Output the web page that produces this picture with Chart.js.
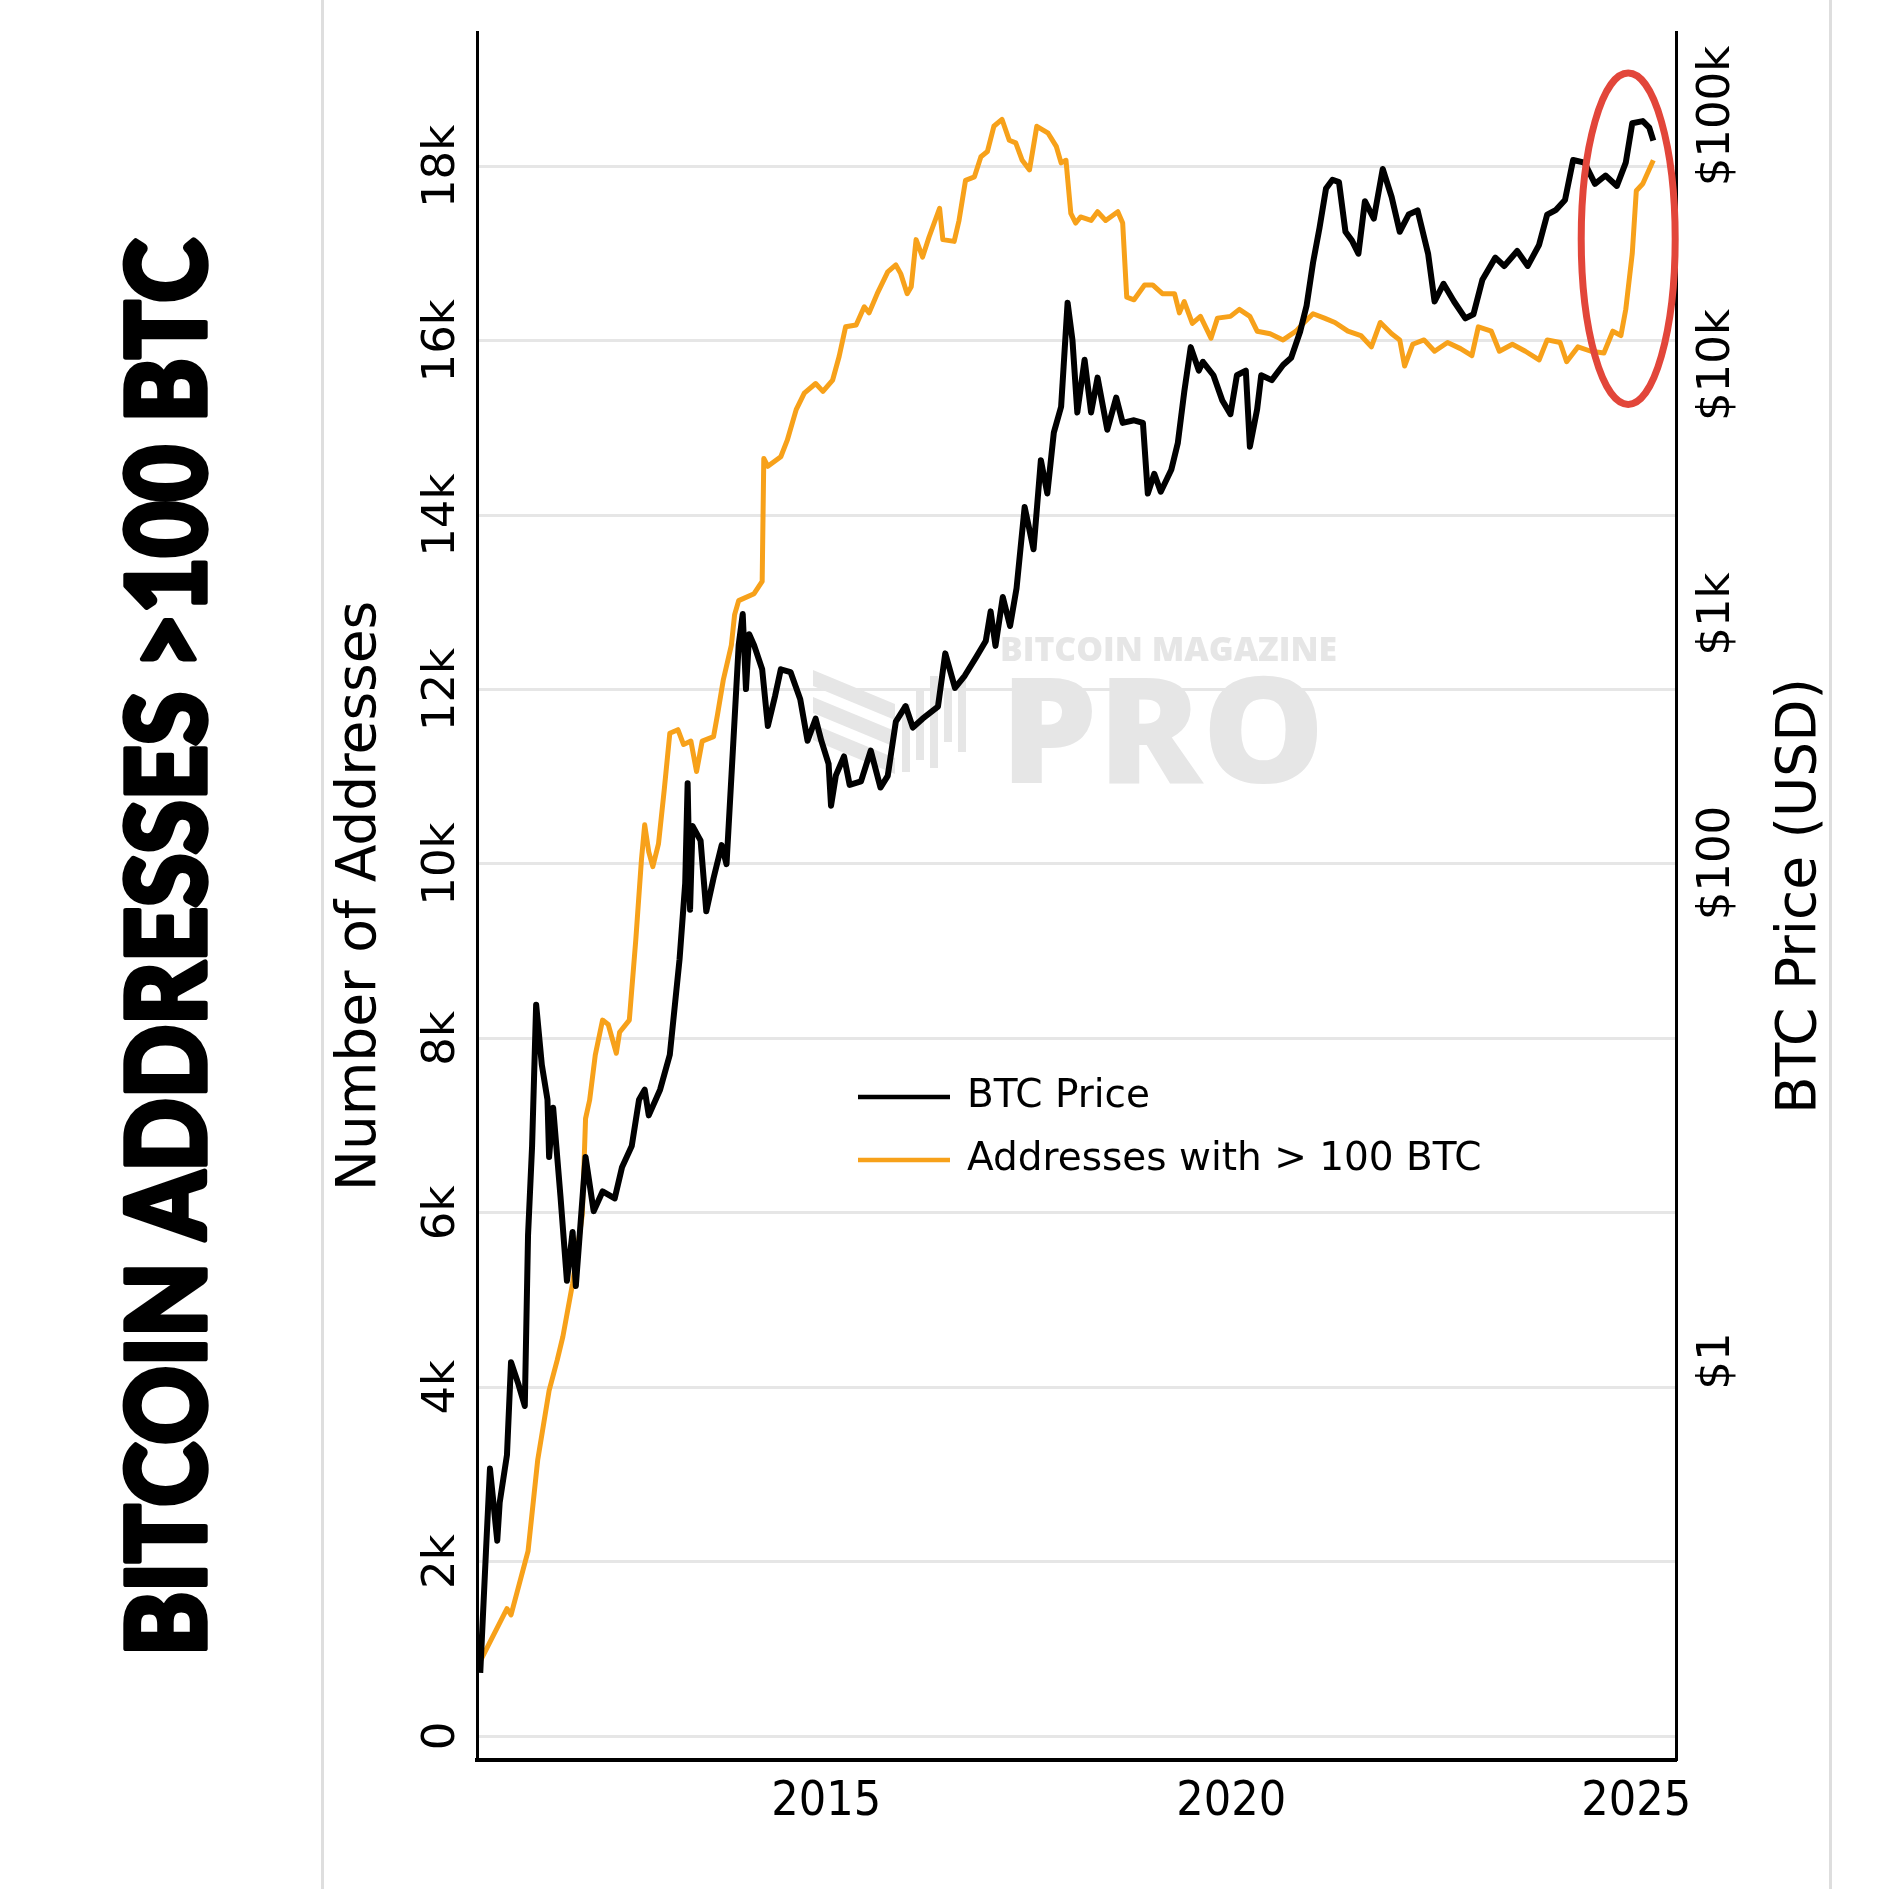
<!DOCTYPE html>
<html lang="en">
<head>
  <meta charset="UTF-8">
  <title>Bitcoin Addresses &gt;100 BTC</title>
  <script src="https://cdn.jsdelivr.net/npm/chart.js"></script>
  <style>
    html, body { margin: 0; padding: 0; background: #fff; }
    canvas { display: block; }
  </style>
</head>
<body>
  <canvas id="addrChart" width="1889" height="1889"></canvas>

  <script>
    // addresses holding more than 100 BTC (left axis)
    const addrYear = [
      2010.73, 2011.06, 2011.11, 2011.32, 2011.44, 2011.58, 2011.68, 2011.75, 2011.87, 2011.99,
      2012.03, 2012.08, 2012.15, 2012.24, 2012.31, 2012.41, 2012.45, 2012.57, 2012.65, 2012.72,
      2012.76, 2012.81, 2012.86, 2012.93, 2013.00, 2013.07, 2013.17, 2013.24, 2013.33, 2013.40,
      2013.47, 2013.61, 2013.66, 2013.73, 2013.83, 2013.87, 2013.92, 2014.11, 2014.21, 2014.23,
      2014.28, 2014.44, 2014.52, 2014.63, 2014.73, 2014.87, 2014.96, 2015.08, 2015.16, 2015.24,
      2015.37, 2015.47, 2015.53, 2015.63, 2015.76, 2015.86, 2015.92, 2016.00, 2016.05, 2016.11,
      2016.19, 2016.27, 2016.40, 2016.44, 2016.58, 2016.64, 2016.72, 2016.83, 2016.91, 2016.99,
      2017.07, 2017.17, 2017.26, 2017.34, 2017.42, 2017.51, 2017.60, 2017.74, 2017.84, 2017.90,
      2017.96, 2018.02, 2018.08, 2018.14, 2018.27, 2018.35, 2018.45, 2018.60, 2018.66, 2018.71,
      2018.80, 2018.93, 2019.03, 2019.15, 2019.30, 2019.36, 2019.42, 2019.52, 2019.62, 2019.75,
      2019.83, 2019.99, 2020.10, 2020.23, 2020.32, 2020.48, 2020.64, 2020.80, 2020.90, 2021.01,
      2021.15, 2021.28, 2021.44, 2021.60, 2021.73, 2021.84, 2021.98, 2022.08, 2022.14, 2022.24,
      2022.38, 2022.51, 2022.67, 2022.83, 2022.97, 2023.05, 2023.21, 2023.31, 2023.47, 2023.63,
      2023.80, 2023.90, 2024.06, 2024.14, 2024.28, 2024.44, 2024.60, 2024.71, 2024.81, 2024.87,
      2024.95, 2025.00, 2025.08, 2025.21
    ];
    const addrCount = [
      860, 1460, 1390, 2120, 3170, 3960, 4310, 4580, 5190, 5980,
      7080, 7290, 7810, 8210, 8160, 7830, 8070, 8210, 9130, 10050,
      10450, 10140, 9970, 10230, 10840, 11500, 11540, 11370, 11410, 11060,
      11410, 11460, 11720, 12110, 12510, 12860, 13020, 13100, 13240, 14650,
      14560, 14670, 14860, 15210, 15400, 15510, 15420, 15550, 15820, 16160,
      16180, 16390, 16320, 16540, 16790, 16870, 16770, 16540, 16620, 17160,
      16960, 17190, 17520, 17160, 17140, 17380, 17840, 17880, 18110, 18170,
      18460, 18540, 18300, 18270, 18070, 17960, 18460, 18380, 18230, 18040,
      18070, 17460, 17350, 17420, 17380, 17480, 17380, 17480, 17350, 16500,
      16470, 16640, 16640, 16540, 16540, 16320, 16450, 16200, 16280, 16030,
      16260, 16280, 16360, 16280, 16110, 16080, 16010, 16110, 16210, 16310,
      16260, 16210, 16110, 16060, 15930, 16210, 16080, 16010, 15710, 15960,
      16010, 15880, 15980, 15910, 15830, 16160, 16110, 15880, 15960, 15880,
      15780, 16010, 15980, 15760, 15930, 15880, 15860, 16110, 16060, 16360,
      17000, 17720, 17800, 18070
    ];

    // BTC price in USD (right axis, log)
    const btcYear = [
      2010.73, 2010.80, 2010.85, 2010.94, 2010.97, 2011.06, 2011.11, 2011.20, 2011.28, 2011.32,
      2011.37, 2011.42, 2011.49, 2011.56, 2011.58, 2011.63, 2011.72, 2011.80, 2011.87, 2011.91,
      2012.03, 2012.13, 2012.24, 2012.39, 2012.48, 2012.60, 2012.69, 2012.76, 2012.81, 2012.95,
      2013.07, 2013.19, 2013.26, 2013.29, 2013.32, 2013.35, 2013.45, 2013.52, 2013.61, 2013.71,
      2013.77, 2013.85, 2013.92, 2013.97, 2014.01, 2014.05, 2014.11, 2014.21, 2014.28, 2014.37,
      2014.44, 2014.56, 2014.68, 2014.77, 2014.87, 2014.94, 2015.03, 2015.06, 2015.12, 2015.22,
      2015.29, 2015.43, 2015.55, 2015.67, 2015.76, 2015.86, 2015.98, 2016.07, 2016.19, 2016.38,
      2016.47, 2016.59, 2016.71, 2016.85, 2016.97, 2017.03, 2017.09, 2017.18, 2017.27, 2017.35,
      2017.45, 2017.56, 2017.65, 2017.73, 2017.81, 2017.90, 2017.98, 2018.04, 2018.10, 2018.19,
      2018.27, 2018.35, 2018.47, 2018.58, 2018.66, 2018.80, 2018.91, 2018.97, 2019.05, 2019.13,
      2019.26, 2019.34, 2019.42, 2019.50, 2019.60, 2019.65, 2019.78, 2019.89, 2019.99, 2020.07,
      2020.18, 2020.23, 2020.32, 2020.37, 2020.50, 2020.64, 2020.74, 2020.85, 2020.93, 2021.01,
      2021.09, 2021.17, 2021.25, 2021.33, 2021.41, 2021.49, 2021.57, 2021.65, 2021.76, 2021.87,
      2021.98, 2022.08, 2022.19, 2022.30, 2022.43, 2022.51, 2022.62, 2022.75, 2022.89, 2022.99,
      2023.10, 2023.26, 2023.37, 2023.53, 2023.66, 2023.80, 2023.90, 2024.01, 2024.12, 2024.22,
      2024.36, 2024.49, 2024.62, 2024.76, 2024.87, 2024.95, 2025.08, 2025.16, 2025.21
    ];
    const btcPrice = [
      0.056, 0.17, 0.37, 0.19, 0.27, 0.42, 0.99, 0.81, 0.66, 3.2,
      7.3, 27, 15.5, 11.2, 6.6, 10.4, 4.6, 2.1, 3.3, 2.0,
      6.6, 4.0, 4.8, 4.5, 6.0, 7.3, 11.2, 12.3, 9.7, 12.3,
      17, 41, 83, 209, 65, 141, 123, 64, 87, 118,
      99, 290, 750, 1000, 500, 830, 750, 600, 355, 470,
      600, 585, 455, 310, 380, 310, 250, 170, 225, 268,
      206, 213, 283, 201, 224, 370, 427, 350, 380, 425,
      695, 505, 565, 670, 780, 1025, 745, 1170, 895, 1270,
      2690, 1820, 4150, 3050, 5350, 6800, 17800, 12600, 6450, 10500,
      6450, 8900, 5500, 7400, 5860, 6000, 5860, 3050, 3660, 3100,
      3800, 4850, 7800, 11800, 9500, 10300, 9100, 7200, 6350, 9100,
      9500, 4700, 6650, 9100, 8700, 10000, 10700, 13600, 17300, 25800,
      35600, 51200, 55500, 54300, 34300, 31600, 28000, 45500, 38700, 61300,
      47300, 34300, 40200, 41800, 28000, 18000, 21200, 18000, 15400, 16000,
      22000, 27000, 25000, 28700, 25000, 30400, 40200, 42000, 46000, 66600,
      65000, 53400, 57700, 52400, 65000, 93600, 95400, 89800, 79600
    ];

    const yearTicks = [2015, 2020, 2025];
    const addrTicks = [0, 2000, 4000, 6000, 8000, 10000, 12000, 14000, 16000, 18000];
    const priceTicks = [1, 100, 1000, 10000, 100000];
    const priceTickLabels = ['$1', '$100', '$1k', '$10k', '$100k'];

    // red ring around the late-2024 move (year, addresses, half sizes)
    const ring = { year: 2024.9, addr: 17170, halfYears: 0.58, halfAddr: 1900 };

    const ORANGE = '#f7a11a';

    function fitText(ctx, text, font, width, capHeight, stroke) {
      ctx.font = font;
      const m = ctx.measureText(text);
      ctx.scale(width / m.width, capHeight / m.actualBoundingBoxAscent);
      ctx.fillText(text, 0, 0);
      if (stroke) {
        ctx.lineWidth = stroke;
        ctx.lineJoin = 'round';
        ctx.strokeText(text, 0, 0);
      }
    }

    const decor = {
      id: 'decor',
      beforeDraw(chart) {
        const c = chart.ctx;
        c.save();
        c.fillStyle = '#fff';
        c.fillRect(0, 0, chart.width, chart.height);
        c.fillStyle = '#dedede';
        c.fillRect(321, 0, 3, chart.height);
        c.fillRect(1829, 0, 3, chart.height);
        c.restore();
      },
      beforeDatasetsDraw(chart) {
        // watermark
        const c = chart.ctx;
        c.save();
        c.fillStyle = '#e6e6e6';
        for (let i = 0; i < 3; i++) {
          const t = 670 + i * 27;
          c.beginPath();
          c.moveTo(813, t);
          c.lineTo(895, t + 34);
          c.lineTo(895, t + 50);
          c.lineTo(813, t + 16);
          c.closePath();
          c.fill();
        }
        const bars = [[902, 704, 772], [916, 690, 760], [930, 676, 768], [944, 690, 742], [958, 680, 752]];
        bars.forEach(b => c.fillRect(b[0], b[1], 8, b[2] - b[1]));
        c.textBaseline = 'alphabetic';
        c.save();
        c.translate(1000, 661);
        fitText(c, 'BITCOIN MAGAZINE', '800 40px "Open Sans", "DejaVu Sans"', 337, 24);
        c.restore();
        c.save();
        c.translate(1000, 783);
        fitText(c, 'PRO', '800 150px "Open Sans", "DejaVu Sans"', 325, 108);
        c.restore();
        c.restore();
      },
      afterDatasetsDraw(chart) {
        const c = chart.ctx;
        const xs = chart.scales.x, ys = chart.scales.y;
        const cx = xs.getPixelForValue(ring.year);
        const cy = ys.getPixelForValue(ring.addr);
        const rx = xs.getPixelForValue(ring.year + ring.halfYears) - cx;
        const ry = cy - ys.getPixelForValue(ring.addr + ring.halfAddr);
        c.save();
        c.strokeStyle = '#e2463a';
        c.lineWidth = 7;
        c.beginPath();
        c.ellipse(cx, cy, rx, ry, 0, 0, Math.PI * 2);
        c.stroke();
        c.restore();
      },
      afterDraw(chart) {
        const c = chart.ctx;
        const area = chart.chartArea;
        c.save();

        // legend
        const lx = area.left + 381, ly = area.top + 1065;
        c.font = '39px "DejaVu Sans"';
        c.textBaseline = 'middle';
        c.textAlign = 'left';
        chart.data.datasets.forEach((ds, i) => {
          const y = ly + i * 63;
          c.strokeStyle = ds.borderColor;
          c.lineWidth = 4.5;
          c.beginPath();
          c.moveTo(lx, y);
          c.lineTo(lx + 92, y);
          c.stroke();
          c.fillStyle = '#000';
          c.fillText(ds.label, lx + 109, y);
        });

        // right axis title (reads upward like the left one)
        const r = chart.scales.y1;
        c.save();
        c.translate(r.left + 125, (area.top + area.bottom) / 2);
        c.rotate(-Math.PI / 2);
        c.font = '55px "DejaVu Sans"';
        c.textAlign = 'center';
        c.fillText('BTC Price (USD)', 0, 0);
        c.restore();

        // big side heading
        c.save();
        c.translate(205, 1656);
        c.rotate(-Math.PI / 2);
        c.fillStyle = '#000';
        c.strokeStyle = '#000';
        c.textBaseline = 'alphabetic';
        c.textAlign = 'left';
        fitText(c, 'BITCOIN ADDRESSES >100 BTC', '900 100px Lato, Roboto, "DejaVu Sans"', 1417, 79, 5);
        c.restore();

        c.restore();
      }
    };

    const ctx = document.getElementById('addrChart').getContext('2d');

    new Chart(ctx, {
      type: 'line',
      data: {
        datasets: [
          {
            label: 'BTC Price',
            data: btcYear.map((x, i) => ({ x, y: btcPrice[i] })),
            yAxisID: 'y1',
            borderColor: '#000',
            borderWidth: 6,
            pointRadius: 0,
            borderJoinStyle: 'round',
            tension: 0
          },
          {
            label: 'Addresses with > 100 BTC',
            data: addrYear.map((x, i) => ({ x, y: addrCount[i] })),
            yAxisID: 'y',
            borderColor: ORANGE,
            borderWidth: 5,
            pointRadius: 0,
            borderJoinStyle: 'round',
            tension: 0
          }
        ]
      },
      options: {
        responsive: false,
        animation: false,
        layout: { padding: { top: 32, left: 0, right: 0, bottom: 0 } },
        plugins: {
          legend: { display: false },
          tooltip: { enabled: false }
        },
        scales: {
          x: {
            type: 'linear',
            min: 2010.69,
            max: 2025.49,
            afterBuildTicks: s => { s.ticks = yearTicks.map(v => ({ value: v })); },
            afterFit: s => { s.height = 129; },
            grid: { display: false, drawTicks: false },
            border: { display: true, color: '#000', width: 4 },
            ticks: {
              autoSkip: false,
              maxRotation: 0,
              padding: 14,
              color: '#000',
              font: { family: '"DejaVu Sans Condensed", "DejaVu Sans"', size: 48 },
              callback: v => String(v)
            }
          },
          y: {
            type: 'linear',
            position: 'left',
            min: -275,
            max: 19541,
            afterBuildTicks: s => { s.ticks = addrTicks.map(v => ({ value: v })); },
            afterFit: s => { s.width = 477; },
            grid: { color: '#e6e6e6', lineWidth: 3, drawTicks: false },
            border: { display: true, color: '#000', width: 3 },
            title: {
              display: true,
              text: 'Number of Addresses',
              color: '#000',
              font: { family: '"DejaVu Sans"', size: 55 },
              padding: { top: 328, bottom: 0 }
            },
            ticks: {
              autoSkip: false,
              minRotation: 90,
              maxRotation: 90,
              crossAlign: 'center',
              padding: -7,
              color: '#000',
              font: { family: '"DejaVu Sans"', size: 45 },
              callback: v => v === 0 ? '0' : (v / 1000) + 'k'
            }
          },
          y1: {
            type: 'logarithmic',
            position: 'right',
            min: 0.025,
            max: 217500,
            afterBuildTicks: s => { s.ticks = priceTicks.map(v => ({ value: v })); },
            afterFit: s => { s.width = 213; },
            grid: { display: false, drawTicks: false },
            border: { display: true, color: '#000', width: 3 },
            ticks: {
              autoSkip: false,
              minRotation: 90,
              maxRotation: 90,
              crossAlign: 'center',
              padding: -29,
              color: '#000',
              font: { family: '"DejaVu Sans"', size: 45 },
              callback: (v, i) => priceTickLabels[i]
            }
          }
        }
      },
      plugins: [decor]
    });
  </script>
</body>
</html>
